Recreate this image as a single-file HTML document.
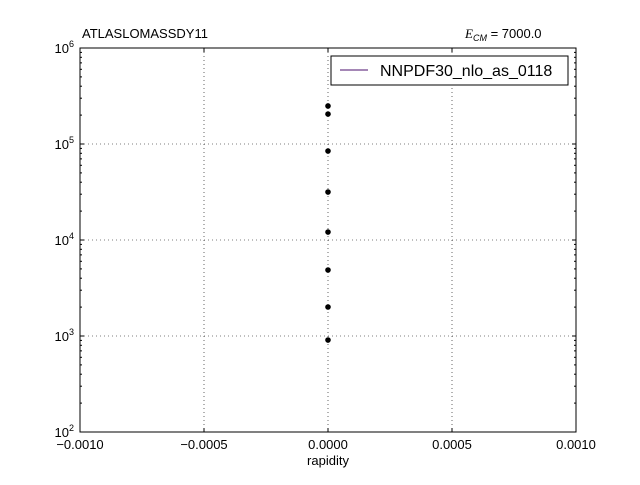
<!DOCTYPE html>
<html><head><meta charset="utf-8"><style>
body{margin:0;background:#fff;width:640px;height:480px;overflow:hidden}
svg text{font-family:"Liberation Sans",sans-serif;fill:#000}
</style></head><body>
<svg id="chart" width="640" height="480" xmlns="http://www.w3.org/2000/svg">
<rect x="0" y="0" width="640" height="480" fill="#fff"/>
<g id="grid"></g>
<g id="points"></g>
<rect x="80" y="48" width="496" height="384" fill="none" stroke="#000" stroke-width="1"/>
<g id="ticks"></g>
<text x="82" y="38" font-size="13">ATLASLOMASSDY11</text>
<text x="465" y="38" font-size="13"><tspan font-style="italic" font-family="Liberation Serif">E</tspan><tspan font-size="9" font-style="italic" dy="3">CM</tspan><tspan dy="-3"> = 7000.0</tspan></text>
<text x="328" y="465" font-size="13" text-anchor="middle">rapidity</text>
<g>
<rect x="331" y="56" width="237" height="29" fill="#fff" stroke="#000"/>
<line x1="340" y1="70" x2="368" y2="70" stroke="#4b0f6e" stroke-width="1"/>
<text x="380" y="76" font-size="16">NNPDF30_nlo_as_0118</text>
</g>
</svg>
<script>
const xVals=[0,0,0,0,0,0,0,0];
const yVals=[249000,205000,84500,31600,12100,4870,2005,908];
const xTicks=[-0.001,-0.0005,0,0.0005,0.001];
const xTickLabels=["\u22120.0010","\u22120.0005","0.0000","0.0005","0.0010"];
const yTickExps=[2,3,4,5,6];
const NS="http://www.w3.org/2000/svg";
const X=v=>80+(v+0.001)/0.002*496;
const Y=v=>432-(Math.log10(v)-2)*96;
const grid=document.getElementById('grid'),ticks=document.getElementById('ticks'),pts=document.getElementById('points');
function mk(t,a,p){const e=document.createElementNS(NS,t);for(const k in a)e.setAttribute(k,a[k]);p.appendChild(e);return e;}
xTicks.forEach((v,i)=>{
 const x=X(v);
 const g=mk('line',{x1:x,y1:48,x2:x,y2:432,stroke:'#000','stroke-dasharray':'1,3','stroke-width':0.6},grid);
 
 
 mk('line',{x1:x,y1:432,x2:x,y2:428,stroke:'#000'},ticks);
 mk('line',{x1:x,y1:48,x2:x,y2:52,stroke:'#000'},ticks);
 const t=mk('text',{x:x,y:449,'font-size':13,'text-anchor':'middle'},ticks);t.textContent=xTickLabels[i];
 
 
});
yTickExps.forEach(e=>{
 const y=Y(Math.pow(10,e));
 const g=mk('line',{x1:80,y1:y,x2:576,y2:y,stroke:'#000','stroke-dasharray':'1,3','stroke-width':0.6},grid);
 
 
 mk('line',{x1:80,y1:y,x2:84,y2:y,stroke:'#000'},ticks);
 mk('line',{x1:576,y1:y,x2:572,y2:y,stroke:'#000'},ticks);
 for(let m=2;m<10&&e<6;m++){const yy=Y(m*Math.pow(10,e));mk('line',{x1:80,y1:yy,x2:82,y2:yy,stroke:'#000'},ticks);mk('line',{x1:576,y1:yy,x2:574,y2:yy,stroke:'#000'},ticks);}
 const t=mk('text',{x:74,y:y+5,'font-size':13,'text-anchor':'end'},ticks);
 t.innerHTML='10<tspan font-size="9" dy="-6">'+e+'</tspan>';
 
 
});
yVals.forEach((v,i)=>{
 const c=mk('circle',{cx:X(xVals[i]),cy:Y(v),r:2.8,fill:'#000'},pts);
 
 
});
</script>
</body></html>
